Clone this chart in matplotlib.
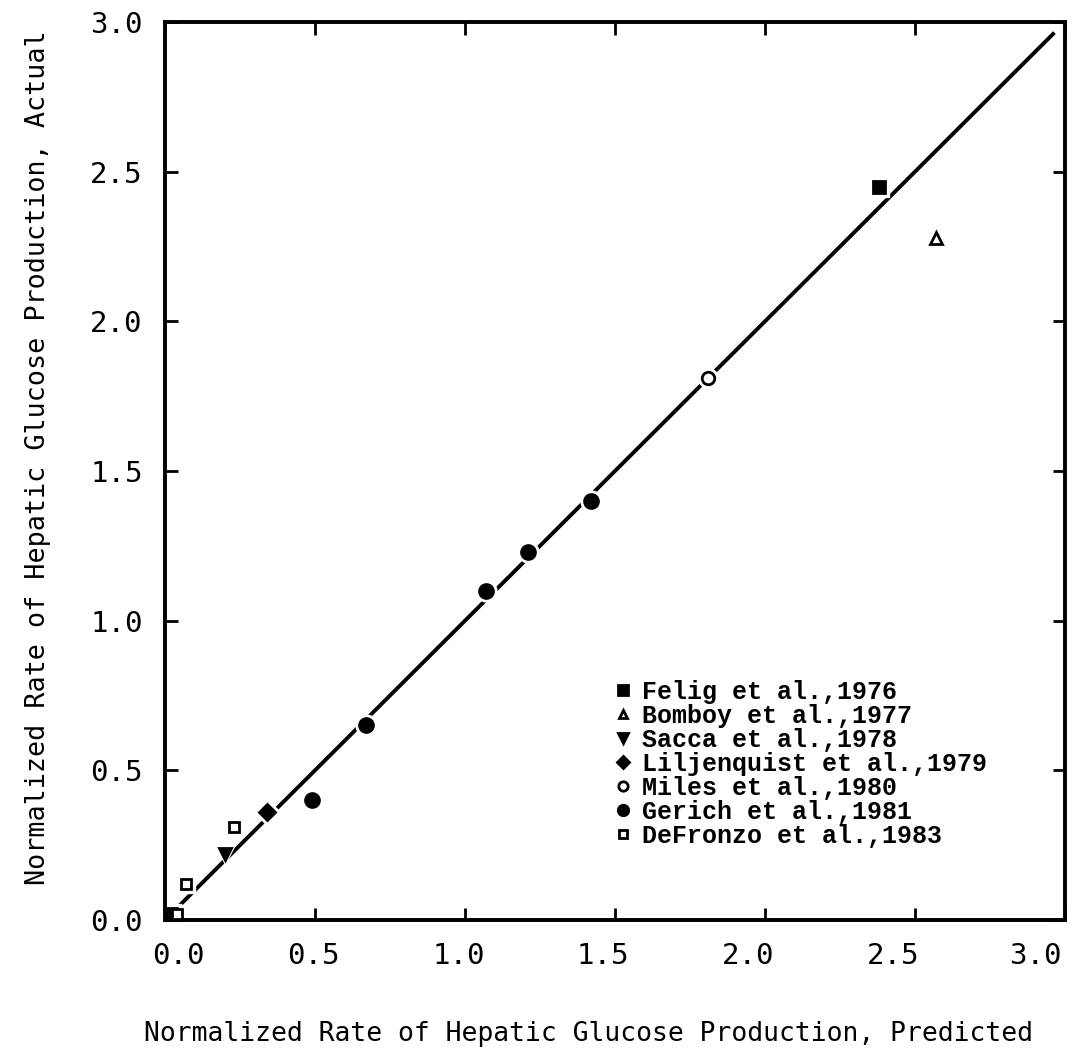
import matplotlib
matplotlib.use("Agg")
import matplotlib.pyplot as plt
from matplotlib.transforms import ScaledTranslation

# study data: predicted vs actual normalized hepatic glucose production
felig_x = [0.02, 2.38]
felig_y = [0.02, 2.45]
bomboy_x = [2.57]
bomboy_y = [2.28]
sacca_x = [0.20]
sacca_y = [0.22]
liljen_x = [0.34]
liljen_y = [0.36]
miles_x = [1.81]
miles_y = [1.81]
gerich_x = [0.49, 0.67, 1.07, 1.21, 1.42]
gerich_y = [0.40, 0.65, 1.10, 1.23, 1.40]
defronzo_x = [0.04, 0.07, 0.23]
defronzo_y = [0.02, 0.12, 0.31]

labels = ["Felig et al.,1976", "Bomboy et al.,1977", "Sacca et al.,1978",
          "Liljenquist et al.,1979", "Miles et al.,1980", "Gerich et al.,1981",
          "DeFronzo et al.,1983"]
ticks = [0.0, 0.5, 1.0, 1.5, 2.0, 2.5, 3.0]
fit_x = [0.0, 2.96]
fit_y = [0.0, 2.96]

axis_font = "DejaVu Sans Mono"
legend_font = "Liberation Mono"

fig = plt.figure(figsize=(10.89, 10.57), dpi=100)
ax = fig.add_axes([0.1515, 0.1296, 0.8265, 0.8496])

ax.plot(fit_x, fit_y, color="black", lw=2.8, zorder=1)

series = [
    (felig_x, felig_y, "s", "black", 9),
    (bomboy_x, bomboy_y, "^", "white", 8),
    (sacca_x, sacca_y, "v", "black", 9),
    (liljen_x, liljen_y, "D", "black", 8),
    (miles_x, miles_y, "o", "white", 9),
    (gerich_x, gerich_y, "o", "black", 10),
    (defronzo_x, defronzo_y, "s", "white", 7.5),
]
handles = []
for (xs, ys, m, fc, ms), lab in zip(series, labels):
    # white halo so the fit line breaks around each point
    ax.plot(xs, ys, ls="none", marker=m, ms=ms + 5, mfc="white", mec="white", zorder=2)
    h, = ax.plot(xs, ys, ls="none", marker=m, ms=ms, mfc=fc, mec="black",
                 mew=2.0, zorder=3, label=lab)
    handles.append(h)

ax.set_xlim(0, 3.0)
ax.set_ylim(0, 3.0)
ax.set_xticks(ticks)
ax.set_yticks(ticks)
ax.set_xticklabels([f"{t:.1f}" for t in ticks], family=axis_font, fontsize=21)
ax.set_yticklabels([f"{t:.1f}" for t in ticks], family=axis_font, fontsize=21)
ax.tick_params(direction="in", length=9, width=2, top=True, right=True, pad=16)
for sp in ax.spines.values():
    sp.set_linewidth(2.8)

# the x labels were lettered a little tighter than the tick spacing
shifts = [13, -2, -6, -12, -17, -22, -30]
for lbl, dx in zip(ax.get_xticklabels(), shifts):
    lbl.set_transform(lbl.get_transform() + ScaledTranslation(dx / 100, 0, fig.dpi_scale_trans))

ax.set_xlabel("Normalized Rate of Hepatic Glucose Production, Predicted",
              family=axis_font, fontsize=19)
ax.set_ylabel("Normalized Rate of Hepatic Glucose Production, Actual",
              family=axis_font, fontsize=19.3)
ax.xaxis.set_label_coords(0.47, -0.112)
ax.yaxis.set_label_coords(-0.127, 0.515)

leg = ax.legend(handles=handles, loc="upper left", bbox_to_anchor=(0.487, 0.281),
                frameon=False, handlelength=0.6, handletextpad=0.45,
                labelspacing=0.0, borderpad=0, markerscale=0.75,
                prop={"family": legend_font, "weight": "bold", "size": 18})

fig.savefig("out.png", dpi=100)
